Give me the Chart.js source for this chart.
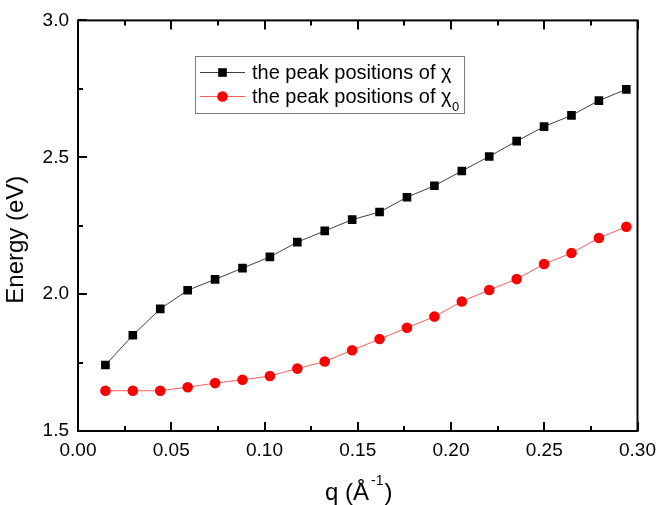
<!DOCTYPE html>
<html>
<head>
<meta charset="utf-8">
<script src="https://cdn.jsdelivr.net/npm/chart.js@4/dist/chart.umd.min.js"></script>
<style>
  html, body { margin: 0; padding: 0; background: #fff; }
  canvas { display: block; }
</style>
</head>
<body>
<canvas id="c" width="664" height="505"></canvas>
<script>
// ---- data ----
const qValues = [0.0147, 0.0294, 0.0441, 0.0588, 0.0735, 0.0882, 0.1029, 0.1176, 0.1323, 0.1470,
                 0.1617, 0.1764, 0.1911, 0.2058, 0.2205, 0.2352, 0.2499, 0.2646, 0.2793, 0.2940];
const chiPeaks = [1.741, 1.850, 1.946, 2.014, 2.054, 2.095, 2.136, 2.190, 2.231, 2.272,
                  2.300, 2.354, 2.396, 2.450, 2.503, 2.559, 2.612, 2.653, 2.707, 2.748];
const chi0Peaks = [1.647, 1.647, 1.647, 1.660, 1.675, 1.687, 1.701, 1.728, 1.754, 1.795,
                   1.836, 1.877, 1.918, 1.973, 2.015, 2.055, 2.110, 2.150, 2.205, 2.246];
const seriesNames = ['the peak positions of χ', 'the peak positions of χ'];
const xTicks = [0.00, 0.05, 0.10, 0.15, 0.20, 0.25, 0.30];
const yTicks = [1.5, 2.0, 2.5, 3.0];
const xTitle = 'q (Å';
const xTitleSup = '-1';
const yTitle = 'Energy (eV)';

const FONT = '"Liberation Sans", Arial, sans-serif';

function toPts(xs, ys) { return xs.map((x, i) => ({ x: x, y: ys[i] })); }

const framePlugin = {
  id: 'frame',
  beforeDatasetsDraw(chart) {
    const ctx = chart.ctx;
    const a = chart.chartArea;
    const xs = chart.scales.x, ys = chart.scales.y;
    ctx.save();
    ctx.strokeStyle = '#000';
    ctx.lineWidth = 2;
    ctx.strokeRect(a.left, a.top, a.right - a.left, a.bottom - a.top);
    // x ticks (bottom and top, inward)
    const xStep = 0.025;
    for (let k = 0; k <= Math.round((xs.max - xs.min) / xStep); k++) {
      const v = xs.min + k * xStep;
      const px = Math.round(xs.getPixelForValue(v));
      const len = (k % 2 === 0) ? 9 : 5;
      ctx.beginPath();
      ctx.moveTo(px, a.bottom); ctx.lineTo(px, a.bottom - len);
      ctx.moveTo(px, a.top); ctx.lineTo(px, a.top + len);
      ctx.stroke();
    }
    // y ticks (left, inward)
    const yStep = 0.25;
    for (let k = 0; k <= Math.round((ys.max - ys.min) / yStep); k++) {
      const v = ys.min + k * yStep;
      const py = Math.round(ys.getPixelForValue(v));
      const len = (k % 2 === 0) ? 9 : 5;
      ctx.beginPath();
      ctx.moveTo(a.left, py); ctx.lineTo(a.left + len, py);
      ctx.stroke();
    }
    ctx.restore();
  },
  afterDraw(chart) {
    const ctx = chart.ctx;
    const a = chart.chartArea;
    ctx.save();
    ctx.fillStyle = '#000';
    // y title
    ctx.save();
    ctx.translate(16, (a.top + a.bottom) / 2 + 14);
    ctx.rotate(-Math.PI / 2);
    ctx.font = '24px ' + FONT;
    ctx.textAlign = 'center';
    ctx.textBaseline = 'middle';
    ctx.fillText(yTitle, 0, 0);
    ctx.restore();
    // x title with superscript
    ctx.font = '24px ' + FONT;
    const w1 = ctx.measureText(xTitle).width;
    const w3 = ctx.measureText(')').width;
    ctx.font = '14px ' + FONT;
    const w2 = ctx.measureText(xTitleSup).width;
    const gap = 2;
    const total = w1 + gap + w2 + 1 + w3;
    let x0 = (a.left + a.right) / 2 + 1 - total / 2;
    const base = 500;
    ctx.textAlign = 'left';
    ctx.textBaseline = 'alphabetic';
    ctx.font = '24px ' + FONT;
    ctx.fillText(xTitle, x0, base);
    ctx.font = '14px ' + FONT;
    ctx.fillText(xTitleSup, x0 + w1 + gap, base - 15);
    ctx.font = '24px ' + FONT;
    ctx.fillText(')', x0 + w1 + gap + w2 + 1, base);

    // legend
    const lx = 195.5, ly = 56.5, lw = 269, lh = 57;
    ctx.fillStyle = '#fff';
    ctx.fillRect(lx, ly, lw, lh);
    ctx.strokeStyle = '#7a7a7a';
    ctx.lineWidth = 1;
    ctx.strokeRect(lx, ly, lw, lh);
    const rows = [
      { y: 72, line: '#404040', fill: '#000', style: 'rect', sub: '' },
      { y: 96, line: '#ff5c5c', fill: '#ff0000', style: 'circle', sub: '0' }
    ];
    rows.forEach((r, i) => {
      ctx.strokeStyle = r.line;
      ctx.lineWidth = 1;
      ctx.beginPath();
      ctx.moveTo(200, r.y + 0.5); ctx.lineTo(245, r.y + 0.5);
      ctx.stroke();
      ctx.fillStyle = r.fill;
      if (r.style === 'rect') {
        ctx.fillRect(222.5 - 4.3, r.y + 0.5 - 4.3, 8.6, 8.6);
      } else {
        ctx.beginPath();
        ctx.arc(222.5, r.y + 0.5, 5.3, 0, Math.PI * 2);
        ctx.fill();
      }
      ctx.fillStyle = '#000';
      ctx.font = '20px ' + FONT;
      ctx.textAlign = 'left';
      ctx.textBaseline = 'alphabetic';
      ctx.fillText(seriesNames[i], 252, r.y + 6.5);
      if (r.sub) {
        const tw = ctx.measureText(seriesNames[i]).width;
        ctx.font = '13px ' + FONT;
        ctx.fillText(r.sub, 252 + tw + 0.5, r.y + 14.5);
      }
    });
    ctx.restore();
  }
};

new Chart(document.getElementById('c'), {
  type: 'scatter',
  data: {
    datasets: [
      {
        label: seriesNames[0],
        data: toPts(qValues, chiPeaks),
        showLine: true,
        borderColor: '#404040',
        borderWidth: 1,
        pointStyle: 'rect',
        pointRadius: 6.1,
        pointBackgroundColor: '#000',
        pointBorderColor: '#000',
        pointBorderWidth: 0
      },
      {
        label: seriesNames[1],
        data: toPts(qValues, chi0Peaks),
        showLine: true,
        borderColor: '#ff5c5c',
        borderWidth: 1,
        pointStyle: 'circle',
        pointRadius: 5.3,
        pointBackgroundColor: '#ff0000',
        pointBorderColor: '#ff0000',
        pointBorderWidth: 0
      }
    ]
  },
  options: {
    responsive: false,
    animation: false,
    events: [],
    layout: { padding: { top: 17, right: 22, left: 0, bottom: 0 } },
    plugins: { legend: { display: false }, tooltip: { enabled: false } },
    scales: {
      x: {
        type: 'linear',
        min: 0, max: 0.30,
        afterBuildTicks(scale) { scale.ticks = xTicks.map(v => ({ value: v })); },
        afterFit(scale) { scale.height = 505 - 431; },
        grid: { display: false, drawTicks: false },
        border: { display: false },
        ticks: {
          padding: 8,
          color: '#000',
          font: { family: FONT, size: 19 },
          callback: v => Number(v).toFixed(2)
        }
      },
      y: {
        type: 'linear',
        min: 1.5, max: 3.0,
        afterBuildTicks(scale) { scale.ticks = yTicks.map(v => ({ value: v })); },
        afterFit(scale) { scale.width = 78; },
        grid: { display: false, drawTicks: false },
        border: { display: false },
        ticks: {
          padding: 9,
          color: '#000',
          font: { family: FONT, size: 19 },
          callback: v => Number(v).toFixed(1)
        }
      }
    }
  },
  plugins: [framePlugin]
});
</script>
</body>
</html>
